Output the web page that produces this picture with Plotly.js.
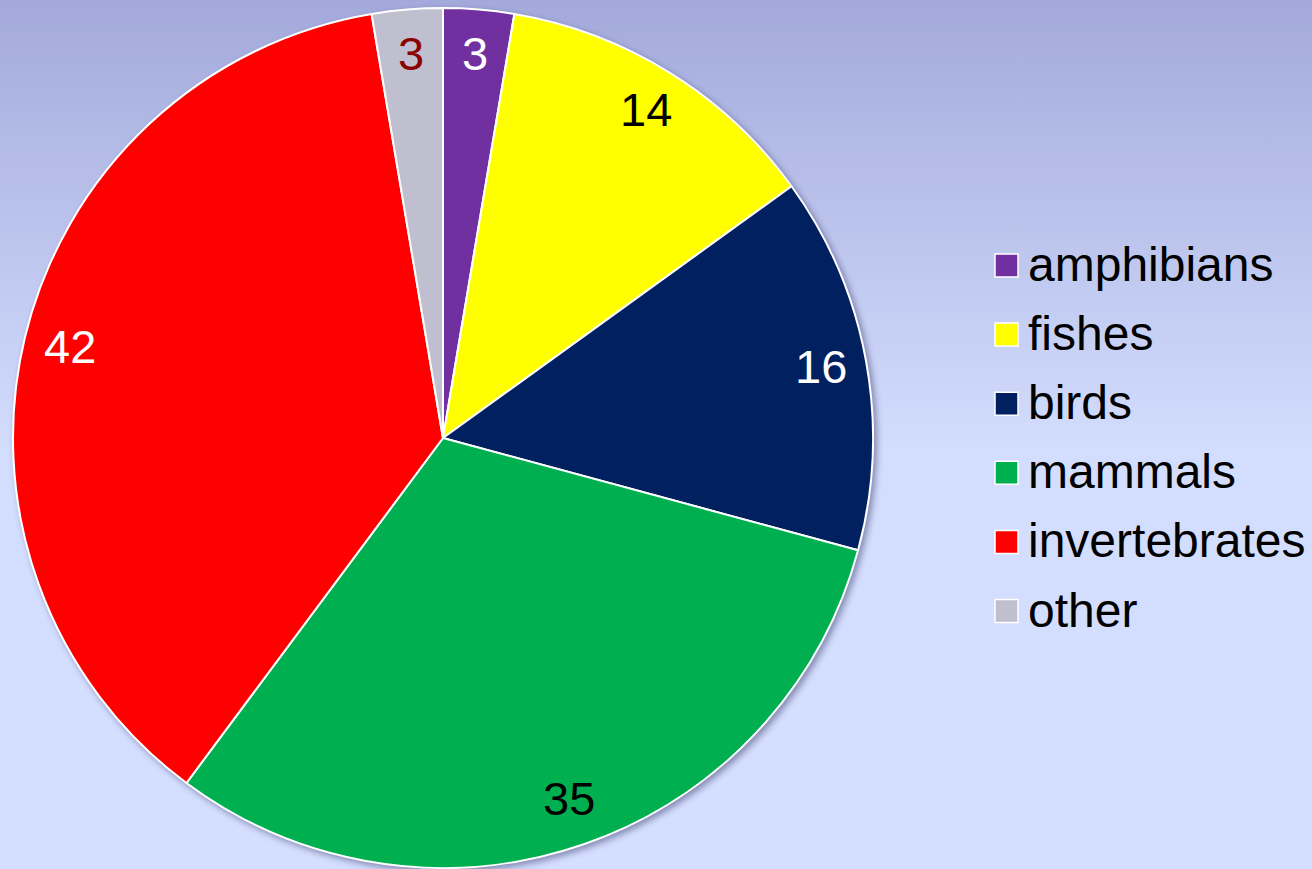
<!DOCTYPE html>
<html><head><meta charset="utf-8">
<script src="https://cdn.plot.ly/plotly-3.0.1.min.js"></script>
<style>
html,body{margin:0;padding:0;}
body{width:1312px;height:869px;overflow:hidden;background:linear-gradient(to bottom,#a3aadb 0%,#d3ddfd 52%,#d4defe 100%);}
#chart{width:1312px;height:869px;}
#chart .pielayer .trace{filter:drop-shadow(3px 3px 3px rgba(40,40,90,0.45));}
</style></head><body><div id="chart"></div>
<script>
const categories = ['amphibians','fishes','birds','mammals','invertebrates','other'];
const values = [3, 14, 16, 35, 42, 3];
const sliceColors = ['#7030a0','#ffff00','#002060','#00b050','#ff0000','#bfbfcf'];
const labelColors = ['#ffffff','#000000','#ffffff','#000000','#ffffff','#8b0000'];

const W = 1312, H = 869;
const cx = 443, cy = 438, R = 430;
const FONT = 'Liberation Sans, Arial, sans-serif';

const trace = {
  type: 'pie',
  labels: categories,
  values: values,
  sort: false,
  direction: 'clockwise',
  rotation: 0,
  marker: {colors: sliceColors, line: {color: '#ffffff', width: 2}},
  textinfo: 'none',
  textposition: 'none',
  hoverinfo: 'label+value',
  showlegend: false,
  domain: {x: [(cx - R) / W, (cx + R) / W], y: [(H - cy - R) / H, (H - cy + R) / H]}
};

const total = values.reduce((a, b) => a + b, 0);
const annotations = [];
const shapes = [];
let cum = 0;
values.forEach((v, i) => {
  const mid = (cum + v / 2) / total * 2 * Math.PI;
  cum += v;
  const r = 0.893 * R;
  const px = cx + r * Math.sin(mid);
  const py = cy - r * Math.cos(mid);
  annotations.push({
    x: px / W, y: 1 - (py - 2) / H, xref: 'paper', yref: 'paper',
    xanchor: 'center', yanchor: 'middle', showarrow: false,
    text: String(v), font: {family: FONT, size: 47, color: labelColors[i]}
  });
});

// legend
categories.forEach((c, i) => {
  const yc = 265.5 + i * 69.1;
  shapes.push({
    type: 'rect', xref: 'paper', yref: 'paper',
    x0: 995 / W, x1: 1018 / W, y0: 1 - (yc - 11.5) / H, y1: 1 - (yc + 11.5) / H,
    fillcolor: sliceColors[i], line: {color: '#ffffff', width: 1.5}
  });
  annotations.push({
    x: 1026 / W, y: 1 - (yc - 1) / H, xref: 'paper', yref: 'paper',
    xanchor: 'left', yanchor: 'middle', showarrow: false,
    text: c, font: {family: FONT, size: 48, color: '#000000'}
  });
});

const layout = {
  width: W, height: H,
  margin: {l: 0, r: 0, t: 0, b: 0},
  paper_bgcolor: 'rgba(0,0,0,0)',
  plot_bgcolor: 'rgba(0,0,0,0)',
  showlegend: false,
  annotations: annotations,
  shapes: shapes
};

Plotly.newPlot('chart', [trace], layout, {displayModeBar: false, staticPlot: true});
</script>
</body></html>
